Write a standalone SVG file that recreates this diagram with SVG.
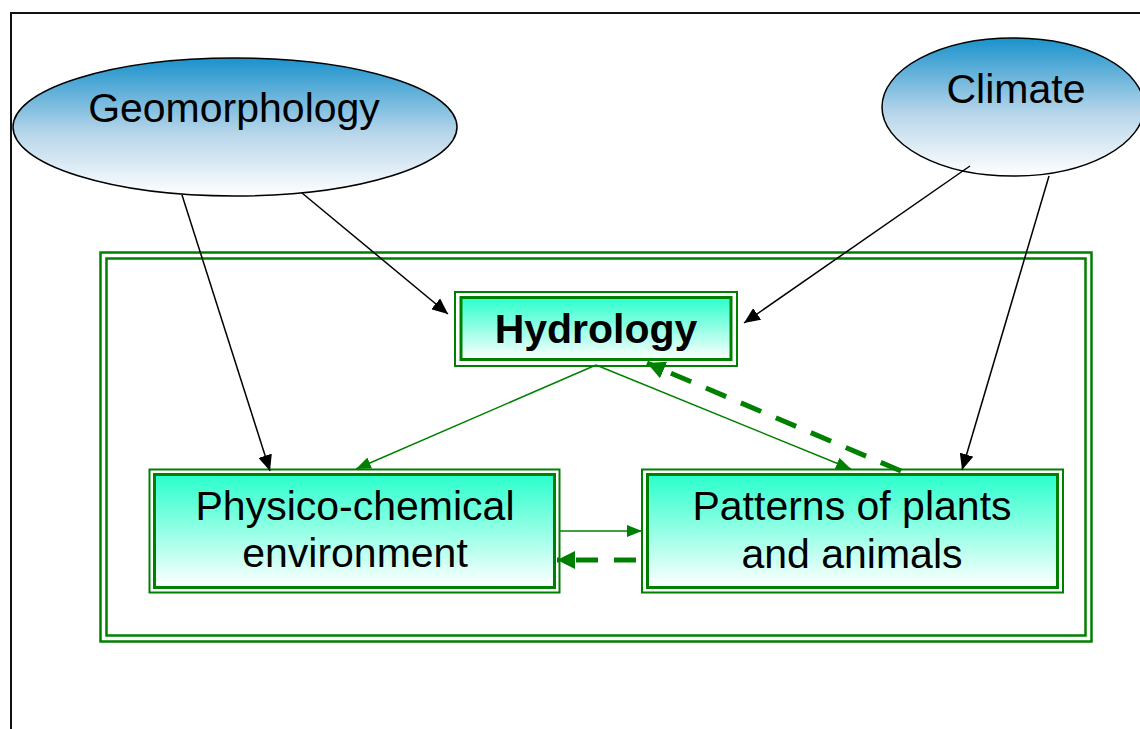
<svg xmlns="http://www.w3.org/2000/svg" width="1140" height="729" viewBox="0 0 1140 729">
  <defs>
    <linearGradient id="gBlue" x1="0" y1="0" x2="0" y2="1">
      <stop offset="0" stop-color="#1a92cc"/>
      <stop offset="0.55" stop-color="#b8d6ea"/>
      <stop offset="1" stop-color="#ffffff"/>
    </linearGradient>
    <linearGradient id="gGreen" x1="0" y1="0" x2="0" y2="1">
      <stop offset="0" stop-color="#2affcc"/>
      <stop offset="1" stop-color="#ffffff"/>
    </linearGradient>
    <marker id="aBlack" markerUnits="userSpaceOnUse" markerWidth="18" markerHeight="14" refX="16" refY="7" orient="auto">
      <path d="M0,0 L16,7 L0,14 Z" fill="#000"/>
    </marker>
    <marker id="aGreen" markerUnits="userSpaceOnUse" markerWidth="16" markerHeight="12" refX="15" refY="6" orient="auto">
      <path d="M0,0 L15,6 L0,12 Z" fill="#008000"/>
    </marker>
    <marker id="aGreenBig" markerUnits="userSpaceOnUse" markerWidth="20" markerHeight="18" refX="18" refY="9" orient="auto">
      <path d="M0,0 L18,9 L0,18 Z" fill="#008000"/>
    </marker>
  </defs>
  <style>
    .lbl { font-family: "Liberation Sans", Arial, sans-serif; font-size: 41px; fill: #000; text-anchor: middle; }
    .bold { font-weight: bold; }
    .ell { fill: url(#gBlue); stroke: #000; stroke-width: 1.5; }
    .boxOut { fill: #ffffff; stroke: #008000; stroke-width: 2; }
    .boxIn { fill: url(#gGreen); stroke: #008000; stroke-width: 3; }
    .frame { fill: none; stroke: #008000; stroke-width: 2.5; }
    .blk { stroke: #000; stroke-width: 1.5; fill: none; marker-end: url(#aBlack); }
    .grn { stroke: #008000; stroke-width: 1.5; fill: none; marker-end: url(#aGreen); }
    .dash { stroke: #008000; stroke-width: 5; fill: none; stroke-dasharray: 22 16; marker-end: url(#aGreenBig); }
  </style>
  <rect x="0" y="0" width="1140" height="729" fill="#fff"/>
  <rect x="11" y="13" width="1140" height="730" fill="none" stroke="#111" stroke-width="2"/>

  <g id="frame">
    <rect class="frame" x="100.5" y="252.5" width="991" height="389"/>
    <rect class="frame" x="106.5" y="258.5" width="979" height="377"/>
  </g>

  <g id="geomorphology">
    <ellipse class="ell" cx="235" cy="127" rx="222" ry="69"/>
    <text class="lbl" x="234" y="122">Geomorphology</text>
  </g>

  <g id="climate">
    <ellipse class="ell" cx="1013" cy="107" rx="131" ry="69"/>
    <text class="lbl" x="1016" y="103">Climate</text>
  </g>

  <g id="hydrology">
    <rect class="boxOut" x="455" y="292" width="282" height="74"/>
    <rect class="boxIn" x="461" y="297.5" width="270" height="62"/>
    <text class="lbl bold" x="596" y="343">Hydrology</text>
  </g>

  <g id="physico">
    <rect class="boxOut" x="149.5" y="469.5" width="410" height="123"/>
    <rect class="boxIn" x="154.5" y="474.5" width="400" height="113"/>
    <text class="lbl" x="355" y="520">Physico-chemical</text>
    <text class="lbl" x="355" y="567">environment</text>
  </g>

  <g id="patterns">
    <rect class="boxOut" x="642" y="469.5" width="421" height="123"/>
    <rect class="boxIn" x="647.5" y="474.5" width="410" height="113"/>
    <text class="lbl" x="852" y="520">Patterns of plants</text>
    <text class="lbl" x="852" y="568">and animals</text>
  </g>

  <g id="connectors">
    <line class="blk" x1="182" y1="195" x2="270" y2="471"/>
    <line class="blk" x1="302" y1="193" x2="448" y2="314"/>
    <line class="blk" x1="970" y1="166" x2="744" y2="323"/>
    <line class="blk" x1="1049" y1="176" x2="962" y2="470"/>
    <line class="grn" x1="596" y1="365" x2="356" y2="469"/>
    <line class="grn" x1="596" y1="365" x2="851" y2="469"/>
    <line class="grn" x1="560" y1="531" x2="642" y2="531"/>
    <line class="dash" x1="901" y1="471" x2="647" y2="363"/>
    <line class="dash" x1="636" y1="560" x2="557" y2="560"/>
  </g>
</svg>
